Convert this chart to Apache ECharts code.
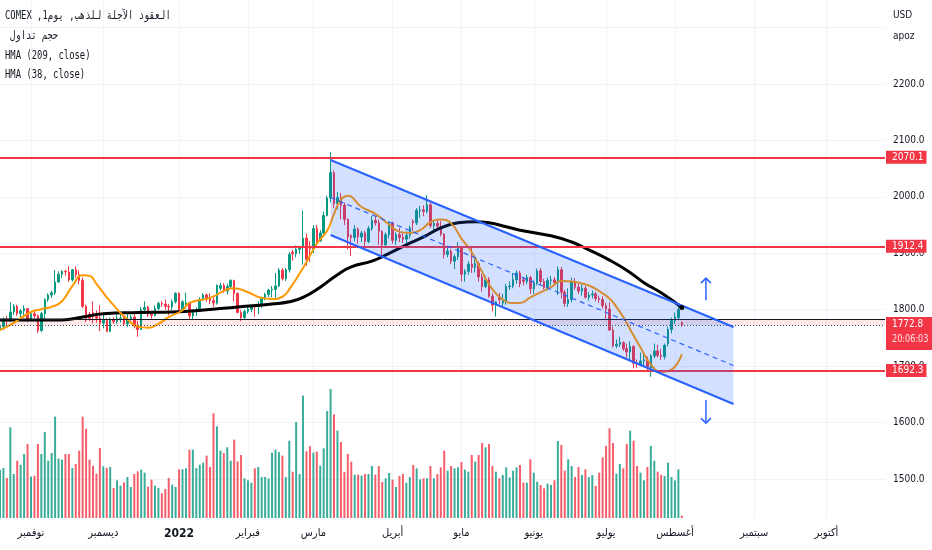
<!DOCTYPE html>
<html>
<head>
<meta charset="utf-8">
<script src="https://cdn.jsdelivr.net/npm/echarts@6/dist/echarts.min.js"></script>
<style>
  html, body { margin: 0; background: #fff; }
  #chart { width: 932px; height: 550px; }
</style>
</head>
<body>
<div id="chart"></div>
<script>
// GC daily, Oct 2021 – Aug 2022
const firstDay = '2021-10-19';
const holidays = ['2021-11-25', '2021-12-24', '2022-01-17', '2022-02-21', '2022-04-15',
  '2022-05-30', '2022-06-20', '2022-07-04', '2022-09-05'];
const barCount = 258; // includes empty future bars to the right
const monthNames = ['يناير', 'فبراير', 'مارس', 'أبريل', 'مايو', 'يونيو', 'يوليو', 'أغسطس',
  'سبتمبر', 'أكتوبر', 'نوفمبر', 'ديسمبر'];
const priceMin = 1400;
const priceMax = 2348.86;
const priceLabelMax = 2200;

// [open, close, low, high]
const ohlc = [
  [1766,1770,1760,1775],[1770,1782,1764,1786],[1782,1781,1773,1789],[1781,1796,1778,1813],[1796,1806,1791,1810],
  [1806,1793,1789,1809],[1793,1798,1784,1801],[1798,1802,1790,1808],[1802,1783,1778,1803],[1783,1793,1780,1797],
  [1793,1789,1785,1797],[1789,1763,1759,1792],[1763,1793,1761,1796],[1793,1818,1784,1820],[1818,1826,1814,1829],
  [1826,1830,1821,1834],[1830,1849,1826,1870],[1849,1863,1848,1868],[1863,1868,1856,1870],[1868,1867,1860,1871],
  [1867,1853,1850,1877],[1853,1871,1850,1872],[1871,1862,1857,1877],[1862,1852,1845,1870],[1852,1806,1803,1857],
  [1806,1782,1778,1809],[1792,1785,1780,1796],[1795,1788,1776,1815],[1788,1785,1777,1799],[1785,1776,1762,1808],
  [1776,1781,1767,1793],[1781,1762,1760,1785],[1762,1783,1760,1786],[1783,1779,1775,1787],[1779,1784,1775,1792],
  [1784,1785,1777,1793],[1785,1775,1772,1790],[1775,1783,1770,1792],[1783,1787,1781,1791],[1787,1771,1767,1792],
  [1771,1765,1752,1780],[1765,1800,1764,1805],[1800,1804,1795,1815],[1804,1792,1787,1807],[1792,1790,1784,1796],
  [1790,1802,1788,1807],[1802,1811,1800,1814],[1811,1810,1805,1815],[1810,1806,1800,1818],[1806,1805,1790,1810],
  [1805,1814,1800,1818],[1814,1829,1811,1831],[1829,1800,1797,1831],[1800,1814,1798,1817],[1806,1812,1802,1830],
  [1812,1789,1782,1814],[1789,1797,1783,1800],[1797,1798,1789,1804],[1798,1818,1797,1822],[1818,1826,1816,1829],
  [1826,1821,1814,1829],[1821,1816,1810,1829],[1816,1812,1805,1822],[1812,1843,1809,1845],[1838,1843,1834,1848],
  [1843,1833,1830,1847],[1833,1841,1827,1846],[1841,1852,1838,1854],[1852,1829,1815,1853],[1829,1795,1794,1830],
  [1795,1786,1780,1799],[1786,1797,1784,1800],[1797,1801,1793,1806],[1801,1805,1796,1809],[1808,1805,1788,1810],
  [1805,1807,1792,1815],[1807,1821,1803,1823],[1821,1827,1817,1830],[1827,1835,1822,1837],[1835,1836,1822,1842],
  [1836,1842,1821,1865],[1842,1870,1840,1874],[1870,1855,1852,1874],[1855,1871,1851,1874],[1871,1898,1866,1902],
  [1902,1899,1887,1906],[1899,1907,1893,1914],[1907,1910,1899,1913],[1910,1927,1880,1976],[1927,1889,1878,1935],
  [1912,1908,1885,1922],[1908,1944,1900,1950],[1944,1922,1912,1950],[1922,1936,1920,1941],[1936,1967,1934,1974],
  [1967,1998,1965,2002],[1998,2043,1990,2079],[2043,1988,1980,2047],[1988,1999,1978,2009],[1999,1985,1960,2007],
  [1985,1960,1950,1990],[1960,1929,1907,1962],[1931,1928,1895,1934],[1928,1943,1921,1950],[1943,1929,1917,1946],
  [1929,1936,1920,1940],[1936,1921,1913,1940],[1921,1944,1918,1948],[1944,1958,1940,1966],[1958,1954,1949,1965],
  [1954,1939,1915,1960],[1939,1915,1890,1941],[1915,1933,1911,1937],[1933,1954,1926,1957],[1954,1923,1917,1956],
  [1923,1933,1915,1937],[1933,1928,1920,1945],[1928,1925,1918,1936],[1925,1932,1918,1939],[1932,1945,1926,1949],
  [1957,1954,1939,1960],[1954,1976,1950,1980],[1976,1977,1963,1984],[1977,1974,1966,1985],[1974,1986,1971,2003],
  [1986,1949,1945,1990],[1949,1953,1940,1958],[1953,1948,1941,1961],[1948,1934,1930,1957],[1934,1898,1891,1936],
  [1898,1904,1893,1910],[1904,1886,1881,1907],[1886,1894,1872,1898],[1894,1911,1888,1920],[1911,1863,1850,1912],
  [1863,1868,1850,1872],[1868,1881,1862,1886],[1881,1875,1865,1910],[1875,1882,1866,1892],[1882,1858,1850,1885],
  [1858,1841,1832,1863],[1841,1853,1838,1860],[1853,1824,1821,1858],[1824,1808,1797,1829],[1808,1814,1788,1816],
  [1822,1818,1810,1830],[1812,1815,1807,1828],[1815,1841,1809,1846],[1841,1842,1835,1850],[1842,1853,1838,1865],
  [1853,1865,1846,1870],[1865,1846,1840,1869],[1853,1850,1843,1858],[1850,1857,1845,1862],[1857,1837,1828,1860],
  [1837,1847,1828,1852],[1847,1869,1843,1873],[1869,1850,1845,1874],[1850,1839,1836,1855],[1839,1852,1834,1857],
  [1852,1853,1843,1860],[1853,1848,1843,1858],[1848,1871,1826,1877],[1871,1831,1820,1876],[1831,1811,1805,1835],
  [1811,1818,1805,1838],[1818,1850,1813,1857],[1850,1840,1835,1856],[1840,1833,1828,1846],[1833,1838,1825,1845],
  [1838,1822,1820,1842],[1822,1826,1816,1831],[1826,1828,1820,1834],[1828,1820,1815,1832],[1820,1818,1812,1825],
  [1818,1807,1802,1824],[1807,1801,1784,1812],[1801,1764,1762,1813],[1764,1736,1733,1770],[1736,1739,1732,1747],
  [1739,1742,1734,1752],[1742,1731,1727,1744],[1731,1725,1715,1740],[1725,1735,1711,1744],[1735,1705,1696,1737],
  [1705,1703,1697,1712],[1703,1709,1700,1724],[1709,1711,1700,1724],[1711,1697,1693,1717],[1697,1718,1681,1721],
  [1718,1727,1714,1740],[1727,1719,1715,1738],[1719,1717,1711,1730],[1717,1737,1712,1740],[1740,1765,1735,1770],
  [1765,1781,1758,1786],[1781,1787,1775,1795],[1786,1800,1782,1806],[1777,1772.8,1770,1779]
];

// volume, thousands of contracts
const volume = [
  145,150,120,272,132,172,160,192,222,124, 127,222,192,258,172,195,304,178,175,192,
  192,150,162,202,304,268,175,157,133,210, 155,150,153,90,113,97,107,123,93,132,
  140,145,136,94,115,97,90,74,87,120, 100,93,146,146,149,205,205,150,160,166,
  187,153,314,275,202,195,212,172,235,170, 189,119,113,106,149,153,123,123,119,196,
  205,198,187,123,232,139,288,132,367,200, 215,196,199,157,209,321,387,311,262,228,
  138,192,169,130,130,127,132,132,156,130, 156,108,119,135,115,93,126,132,106,123,
  159,149,116,119,119,156,119,132,152,202, 142,156,149,152,168,145,139,189,169,189,
  225,212,222,156,139,119,129,152,122,142, 152,159,106,106,176,136,109,99,89,103,
  99,113,231,219,142,176,156,123,153,129, 146,123,129,96,136,182,216,269,225,133,
  162,149,222,262,232,156,136,113,153,216, 172,139,130,126,166,123,113,146,7
];

// HMA curves, [bar index, price] read at points along each line
const hmaSlow = [
  [0,1782],[18,1782],[24,1787],[30,1793],[40,1795],[50,1796],[60,1800],[69,1805],[79,1810],[84,1814],
  [88,1822],[93,1840],[98,1862],[102,1876],[108,1886],[113,1900],[118,1915],[123,1929],[128,1945],[133,1954],
  [138,1956],[142,1954],[147,1947],[151,1941],[160,1931],[166,1920],[171,1906],[177,1888],[182,1870],[187,1848],
  [192,1830],[198,1804]
];
const hmaFast = [
  [0,1764],[3,1773],[6,1785],[9,1796],[12,1801],[15,1805],[18,1815],[21,1842],[24,1861],[26,1860],
  [28,1846],[31,1822],[34,1801],[37,1783],[40,1770],[43,1768],[46,1775],[49,1787],[53,1799],[55,1812],
  [61,1821],[68,1838],[72,1831],[76,1821],[79,1819],[82,1823],[84,1836],[88,1874],[92,1917],[95,1940],
  [97,1970],[99,1995],[101,2002],[105,1982],[109,1970],[113,1951],[116,1938],[119,1936],[122,1941],[125,1955],
  [128,1960],[131,1953],[134,1926],[137,1902],[140,1867],[143,1836],[146,1818],[149,1812],[151,1812],[154,1822],
  [160,1840],[163,1851],[167,1849],[171,1843],[174,1833],[177,1820],[179,1805],[181,1787],[183,1765],[186,1733],
  [189,1703],[192,1690],[195,1694],[198,1721]
];

// drawings
const redLevels = [2070.1, 1912.4, 1692.3];
const boxTop = 1783.7;
const lastPrice = 1772.8;
const countdown = '20:06:03';
const channelStart = [96, 2065.3, 1932.4]; // [bar, upper, lower]
const channelEnd = [213, 1769.4, 1632.9];
const arrows = [[205, 1817, 1856], [205, 1640, 1599]]; // [bar, from, tip]

const UP = '#089981';
const DOWN = '#f23645';
const BLUE = '#2962ff';
const TEXT = '#131722';
const GRID = '#f0f3fa';
const axisFont = "'Liberation Sans Narrow', 'DejaVu Sans Condensed', Roboto, sans-serif";
const monoFont = "'DejaVu Sans Mono', monospace";

const days = [];
const d = new Date(firstDay + 'T00:00:00Z');
while (days.length < barCount) {
  const iso = d.toISOString().slice(0, 10);
  const wd = d.getUTCDay();
  if (wd !== 0 && wd !== 6 && !holidays.includes(iso)) days.push(iso);
  d.setUTCDate(d.getUTCDate() + 1);
}
const isMonthStart = (i) => i > 0 && days[i].slice(5, 7) !== days[i - 1].slice(5, 7);

const chart = echarts.init(document.getElementById('chart'));

const tag = (v) => ({
  show: true, position: 'end', distance: 1, formatter: v.toFixed(1),
  backgroundColor: DOWN, color: '#fff', fontSize: 10, fontFamily: axisFont,
  padding: [2, 3, 1, 6],
});

const option = {
  animation: false,
  backgroundColor: '#ffffff',
  grid: [
    { left: -0.775, right: 47, top: 0, bottom: 14.56 },
    { left: -0.775, right: 47, top: 0, bottom: 32 },
  ],
  xAxis: [
    { type: 'category', gridIndex: 0, data: days, boundaryGap: false, show: false },
    {
      type: 'category', gridIndex: 1, data: days, boundaryGap: false,
      axisLine: { show: false }, axisTick: { show: false },
      axisLabel: {
        interval: (i) => isMonthStart(i),
        margin: 10, color: TEXT, fontSize: 11, fontFamily: axisFont,
        formatter: (v) => {
          const m = +v.slice(5, 7) - 1;
          return m === 0 ? '{y|' + v.slice(0, 4) + '}' : monthNames[m];
        },
        rich: { y: { fontWeight: 'bold', fontSize: 12, color: TEXT, fontFamily: axisFont } },
      },
      splitLine: { show: true, interval: (i) => isMonthStart(i), lineStyle: { color: GRID, width: 1 } },
    },
  ],
  yAxis: [
    {
      type: 'value', gridIndex: 0, position: 'right', min: priceMin, max: priceMax, interval: 100,
      axisLine: { show: false }, axisTick: { show: false },
      axisLabel: {
        margin: 8, color: TEXT, fontSize: 10, fontFamily: axisFont,
        showMaxLabel: false,
        formatter: (v) => (v === priceMin || v > priceLabelMax || v % 100 !== 0 ? '' : v.toFixed(1)),
      },
      splitLine: { lineStyle: { color: GRID, width: 1 }, showMinLine: false, showMaxLine: false },
    },
    { type: 'value', gridIndex: 1, min: 0, max: 1554, show: false },
  ],
  series: [
    {
      name: 'volume', type: 'bar', xAxisIndex: 1, yAxisIndex: 1, barWidth: 2, z: 1,
      data: volume.map((v, i) => ({
        value: v,
        itemStyle: { color: ohlc[i][1] >= ohlc[i][0] ? 'rgba(8,153,129,0.8)' : 'rgba(242,54,69,0.8)' },
      })),
    },
    {
      name: 'price', type: 'candlestick', xAxisIndex: 0, yAxisIndex: 0, z: 3,
      barWidth: 2,
      data: ohlc,
      itemStyle: { color: UP, color0: DOWN, borderColor: UP, borderColor0: DOWN, borderWidth: 1 },
      markArea: {
        silent: true,
        itemStyle: { color: 'rgba(242,54,69,0.12)' },
        data: [[{ yAxis: lastPrice }, { yAxis: boxTop }]],
      },
      markLine: {
        symbol: 'none', silent: true, animation: false,
        data: [
          ...redLevels.map((v) => ({ yAxis: v, lineStyle: { color: DOWN, width: 2, type: 'solid' }, label: tag(v) })),
          { yAxis: boxTop, lineStyle: { color: TEXT, width: 1, type: 'solid' }, label: { show: false } },
          { yAxis: lastPrice, lineStyle: { color: '#434651', width: 1, type: [1, 2] }, label: { show: false } },
        ],
      },
    },
    {
      name: 'HMA (209, close)', type: 'line', xAxisIndex: 0, yAxisIndex: 0, z: 4,
      data: hmaSlow, smooth: 0.5, showSymbol: false,
      endLabel: { show: false },
      lineStyle: { color: '#000000', width: 3 },
    },
    {
      name: 'HMA (38, close)', type: 'line', xAxisIndex: 0, yAxisIndex: 0, z: 4,
      data: hmaFast, smooth: 0.5, showSymbol: false,
      lineStyle: { color: '#ff9800', width: 2 },
    },
    {
      name: 'channel', type: 'custom', xAxisIndex: 0, yAxisIndex: 0, z: 5, silent: true,
      data: [[channelStart[0], channelStart[1]]],
      renderItem: (params, api) => {
        const a = api.coord([channelStart[0], channelStart[1]]);
        const b = api.coord([channelEnd[0], channelEnd[1]]);
        const c = api.coord([channelEnd[0], channelEnd[2]]);
        const e = api.coord([channelStart[0], channelStart[2]]);
        const m0 = api.coord([channelStart[0], (channelStart[1] + channelStart[2]) / 2]);
        const m1 = api.coord([channelEnd[0], (channelEnd[1] + channelEnd[2]) / 2]);
        return {
          type: 'group',
          children: [
            { type: 'polygon', shape: { points: [a, b, c, e] }, style: { fill: 'rgba(41,98,255,0.2)' } },
            { type: 'line', shape: { x1: a[0], y1: a[1], x2: b[0], y2: b[1] }, style: { stroke: BLUE, lineWidth: 2 } },
            { type: 'line', shape: { x1: e[0], y1: e[1], x2: c[0], y2: c[1] }, style: { stroke: BLUE, lineWidth: 2 } },
            { type: 'line', shape: { x1: m0[0], y1: m0[1], x2: m1[0], y2: m1[1] }, style: { stroke: BLUE, lineWidth: 1.2, lineDash: [5, 4] } },
          ],
        };
      },
    },
    {
      name: 'arrows', type: 'custom', xAxisIndex: 0, yAxisIndex: 0, z: 5, silent: true,
      data: arrows,
      renderItem: (params, api) => {
        const [x0, y0] = api.coord([api.value(0), api.value(1)]);
        const y1 = api.coord([api.value(0), api.value(2)])[1];
        const dir = y1 < y0 ? -1 : 1;
        const h = 5;
        return {
          type: 'group',
          children: [
            { type: 'line', shape: { x1: x0, y1: y0, x2: x0, y2: y1 }, style: { stroke: BLUE, lineWidth: 1.5 } },
            { type: 'polyline', shape: { points: [[x0 - h, y1 - dir * h], [x0, y1], [x0 + h, y1 - dir * h]] }, style: { stroke: BLUE, lineWidth: 1.5, fill: null } },
          ],
        };
      },
    },
  ],
};

chart.setOption(option);

const legendLines = [
  'COMEX ,1يوم\u200E ,\u200Eالعقود الآجلة للذهب',
  'حجم تداول',
  'HMA (209, close)',
  'HMA (38, close)',
];
const lastY = chart.convertToPixel({ yAxisIndex: 0 }, lastPrice);
const slowEnd = chart.convertToPixel({ xAxisIndex: 0, yAxisIndex: 0 }, hmaSlow[hmaSlow.length - 1]);

chart.setOption({
  graphic: [
    ...legendLines.map((t, i) => ({
      type: 'text', x: i === 1 ? 10 : 5, y: [10, 30, 50, 69][i], scaleX: 0.74,
      style: { text: t, fontSize: 12, fontFamily: monoFont, fill: TEXT },
    })),
    { type: 'text', x: 893, y: 10, style: { text: 'USD', fontSize: 10, fontFamily: axisFont, fill: TEXT } },
    { type: 'text', x: 893, y: 31, style: { text: 'apoz', fontSize: 10, fontFamily: axisFont, fill: TEXT } },
    { type: 'circle', shape: { cx: slowEnd[0], cy: slowEnd[1], r: 2.5 }, style: { fill: '#000' }, z: 6 },
    { type: 'rect', shape: { x: 886, y: lastY - 8, width: 46, height: 33 }, style: { fill: DOWN }, z: 10 },
    { type: 'text', x: 892, y: lastY - 6, z: 11, scaleX: 0.9, style: { text: lastPrice.toFixed(1), fontSize: 11, fontFamily: axisFont, fill: '#fff' } },
    { type: 'text', x: 892, y: lastY + 9, z: 11, scaleX: 0.82, style: { text: countdown, fontSize: 11, fontFamily: axisFont, fill: '#ffe5e7' } },
  ],
});

window.addEventListener('resize', () => chart.resize());
</script>
</body>
</html>
